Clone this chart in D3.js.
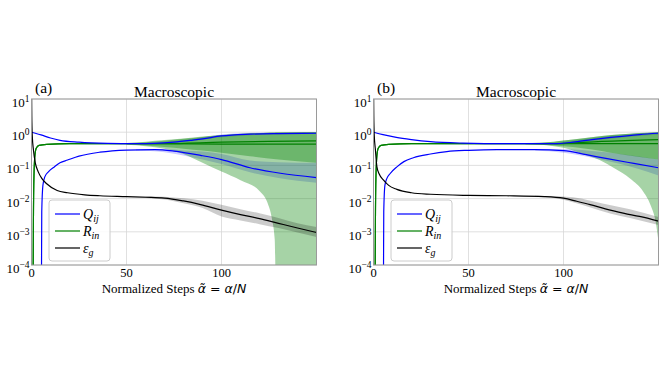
<!doctype html>
<html>
<head>
<meta charset="UTF-8">
<title>Macroscopic</title>
<script src="https://cdn.jsdelivr.net/npm/d3@7"></script>
<style>
  body { margin: 0; background: #fff; }
  text { font-family: "Liberation Serif", "Times New Roman", serif; fill: #000; }
</style>
</head>
<body>
<svg id="chart" width="664" height="374"></svg>
<script>
// ---- data ----
var xTicks = [0, 50, 100];
var yTicks = [1e-4, 1e-3, 1e-2, 1e-1, 1, 10];
var yTickExp = ["\u22124", "\u22123", "\u22122", "\u22121", "0", "1"];
var panelLabels = ["(a)", "(b)"];
var legendNames = ["Q", "R", "\u03b5"];
var legendSubs = ["ij", "in", "g"];

// R rises from ~0 right at the start (shared early part)
var rRise = [[0.8, 1e-5], [1.0, 0.002], [1.3, 0.05], [1.8, 0.2], [2.5, 0.33], [4, 0.4], [8, 0.43], [20, 0.45]];

// panel (a)
var qUpA = [[0, 1.0], [2, 0.93], [5, 0.83], [10, 0.67], [15, 0.57], [25, 0.5], [40, 0.46], [55, 0.45], [65, 0.46], [75, 0.5], [85, 0.58], [90, 0.63], [100, 0.77], [115, 0.87], [130, 0.91], [150, 0.93]];
var qLowA = [[5.2, 1e-5], [5.4, 0.004], [6, 0.025], [7, 0.045], [9, 0.065], [12, 0.09], [15, 0.12], [19, 0.145], [25, 0.19], [36, 0.25], [50, 0.29], [65, 0.3], [75, 0.27], [89, 0.2], [100, 0.15], [115, 0.085], [131, 0.058], [150, 0.043]];
var rTopA = rRise.concat([[70, 0.45], [100, 0.5], [125, 0.53], [150, 0.55]]);
var rBotA = rRise.concat([[70, 0.45], [100, 0.44], [150, 0.44]]);
var epsA = [[0, 30], [0.15, 3], [0.4, 0.8], [1, 0.3], [2, 0.12], [3.5, 0.065], [5.5, 0.04], [8, 0.028], [13.5, 0.0175], [19, 0.015], [28, 0.013], [36, 0.0122], [50, 0.0115], [60, 0.011], [70, 0.0104], [80, 0.0085], [89, 0.0066], [100, 0.0045], [110, 0.0033], [120, 0.0025], [130, 0.0018], [140, 0.0013], [150, 0.00095]];
var bandRTopA = [[50, 0.43, 0.47], [60, 0.4, 0.5], [70, 0.36, 0.55], [80, 0.32, 0.63], [90, 0.28, 0.72], [100, 0.24, 0.82], [115, 0.19, 0.92], [130, 0.15, 0.98], [150, 0.12, 1.02]];
var bandRBotA = [[50, 0.42, 0.47], [60, 0.38, 0.52], [70, 0.32, 0.58], [80, 0.22, 0.65], [90, 0.12, 0.74], [100, 0.065, 0.82], [110, 0.036, 0.9], [120, 0.017, 0.95], [124, 0.008, 0.97], [126.5, 0.0025, 0.98], [128, 0.0006, 0.98], [129, 1e-6, 0.99], [150, 1e-6, 1.0]];
var bandQLowA = [[55, 0.28, 0.31], [70, 0.25, 0.31], [80, 0.2, 0.28], [90, 0.15, 0.26], [100, 0.11, 0.22], [115, 0.062, 0.14], [130, 0.042, 0.125], [150, 0.03, 0.12]];
var bandQUpA = [[60, 0.44, 0.47], [80, 0.5, 0.58], [100, 0.7, 0.85], [120, 0.83, 0.96], [150, 0.88, 1.0]];
var bandEpsA = [[50, 0.0112, 0.0118], [60, 0.0104, 0.0118], [70, 0.0094, 0.0114], [80, 0.0072, 0.0102], [90, 0.0052, 0.0086], [100, 0.0029, 0.0065], [110, 0.0022, 0.0048], [120, 0.0017, 0.0036], [130, 0.0013, 0.0026], [140, 0.00095, 0.0018], [150, 0.0007, 0.0014]];

// panel (b)
var qUpB = [[0, 1.0], [5, 0.85], [12, 0.7], [20, 0.6], [30, 0.52], [47, 0.47], [70, 0.45], [95, 0.45], [105, 0.5], [115, 0.6], [125, 0.7], [140, 0.85], [150, 0.93]];
var qLowB = [[5.2, 1e-5], [5.4, 0.004], [6, 0.025], [7, 0.04], [8.8, 0.057], [12.3, 0.09], [16, 0.13], [21, 0.17], [30, 0.22], [38.6, 0.26], [50, 0.285], [65, 0.3], [85, 0.3], [100, 0.28], [112, 0.21], [123, 0.16], [137, 0.115], [150, 0.085]];
var rTopB = rRise.concat([[95, 0.45], [120, 0.53], [150, 0.6]]);
var rBotB = rRise.concat([[95, 0.45], [150, 0.45]]);
var epsB = [[0, 30], [0.15, 3], [0.4, 0.8], [1, 0.3], [1.8, 0.09], [3, 0.055], [5.3, 0.036], [8, 0.025], [12.3, 0.019], [20, 0.015], [30, 0.0135], [50, 0.0125], [70, 0.0122], [90, 0.0115], [100, 0.0103], [107, 0.0083], [114, 0.0066], [122, 0.0049], [132, 0.0036], [140, 0.0029], [150, 0.0021]];
var bandRTopB = [[80, 0.43, 0.47], [95, 0.4, 0.52], [105, 0.36, 0.6], [115, 0.3, 0.7], [125, 0.24, 0.82], [140, 0.18, 0.95], [150, 0.15, 1.0]];
var bandRBotB = [[80, 0.43, 0.47], [95, 0.38, 0.52], [100, 0.34, 0.56], [110, 0.22, 0.65], [119, 0.145, 0.75], [127, 0.08, 0.84], [135, 0.04, 0.9], [142, 0.016, 0.95], [146, 0.006, 0.97], [148.5, 0.002, 0.98], [150, 0.0005, 0.99]];
var bandQLowB = [[85, 0.28, 0.31], [100, 0.24, 0.31], [115, 0.17, 0.27], [130, 0.11, 0.22], [150, 0.05, 0.15]];
var bandQUpB = [[95, 0.43, 0.47], [110, 0.5, 0.6], [130, 0.68, 0.84], [150, 0.85, 1.0]];
var bandEpsB = [[85, 0.0112, 0.0122], [95, 0.0104, 0.0118], [105, 0.0078, 0.011], [115, 0.0052, 0.0085], [125, 0.0035, 0.0063], [135, 0.0026, 0.0048], [150, 0.0016, 0.0028]];

var panels = [
  {left: 31.5, label: panelLabels[0], qUp: qUpA, qLow: qLowA, rTop: rTopA, rBot: rBotA, eps: epsA,
   bRTop: bandRTopA, bRBot: bandRBotA, bQLow: bandQLowA, bQUp: bandQUpA, bEps: bandEpsA},
  {left: 373.5, label: panelLabels[1], qUp: qUpB, qLow: qLowB, rTop: rTopB, rBot: rBotB, eps: epsB,
   bRTop: bandRTopB, bRBot: bandRBotB, bQLow: bandQLowB, bQUp: bandQUpB, bEps: bandEpsB}
];

var svg = d3.select("svg#chart");
var top_ = 99, bottom = 265, plotW = 285;

function drawPanel(p, k) {
  var x = d3.scaleLinear().domain([0, 150]).range([p.left, p.left + plotW]),
      y = d3.scaleLog().domain([1e-4, 10]).range([bottom, top_]);

  var g = svg.append("g");

  // grid
  g.selectAll(".gx").data(xTicks.concat([150])).enter().append("line")
    .attr("x1", function(d) { return x(d); }).attr("x2", function(d) { return x(d); })
    .attr("y1", top_).attr("y2", bottom)
    .style("stroke", "#d8d8d8").style("stroke-width", 0.8);
  g.selectAll(".gy").data(yTicks).enter().append("line")
    .attr("x1", x(0)).attr("x2", x(150))
    .attr("y1", function(d) { return y(d); }).attr("y2", function(d) { return y(d); })
    .style("stroke", "#d8d8d8").style("stroke-width", 0.8);

  svg.append("clipPath").attr("id", "clip" + k)
    .append("rect").attr("x", x(0)).attr("y", top_).attr("width", plotW).attr("height", bottom - top_);

  var data = g.append("g").attr("clip-path", "url(#clip" + k + ")");

  var line = d3.line().curve(d3.curveMonotoneX)
    .x(function(d) { return x(d[0]); })
    .y(function(d) { return y(d[1]); });
  var area = d3.area().curve(d3.curveMonotoneX)
    .x(function(d) { return x(d[0]); })
    .y0(function(d) { return y(d[1]); })
    .y1(function(d) { return y(d[2]); });

  // bands (blue under green, so the overlap turns teal)
  data.append("path").attr("d", area(p.bQUp)).style("fill", "blue").style("opacity", 0.2);
  data.append("path").attr("d", area(p.bQLow)).style("fill", "blue").style("opacity", 0.2);
  data.append("path").attr("d", area(p.bRBot)).style("fill", "green").style("opacity", 0.35);
  data.append("path").attr("d", area(p.bRTop)).style("fill", "green").style("opacity", 0.35);
  data.append("path").attr("d", area(p.bEps)).style("fill", "black").style("opacity", 0.2);

  // lines
  [[p.rTop, "green"], [p.rBot, "green"], [p.qUp, "blue"], [p.qLow, "blue"], [p.eps, "black"]].forEach(function(s) {
    data.append("path").attr("d", line(s[0]))
      .style("fill", "none").style("stroke", s[1]).style("stroke-width", 1.2);
  });

  // frame
  g.append("rect").attr("x", x(0)).attr("y", top_).attr("width", plotW).attr("height", bottom - top_)
    .style("fill", "none").style("stroke", "#9a9a9a").style("stroke-width", 1);

  // tick labels
  g.selectAll(".tx").data(xTicks).enter().append("text")
    .attr("x", function(d) { return x(d); }).attr("y", bottom + 12)
    .attr("text-anchor", "middle").style("font-size", "12.5px")
    .text(function(d) { return d; });

  var ty = g.selectAll(".ty").data(yTicks).enter().append("text")
    .attr("x", x(0) - 2).attr("y", function(d) { return y(d) + 8; })
    .attr("text-anchor", "end").style("font-size", "13px");
  ty.append("tspan").text("10");
  ty.append("tspan").attr("dy", "-0.5em").style("font-size", "9.5px")
    .text(function(d, i) { return yTickExp[i]; });

  // titles
  g.append("text").attr("x", x(75)).attr("y", 96.5).attr("text-anchor", "middle")
    .style("font-size", "15.5px").text("Macroscopic");
  g.append("text").attr("x", x(0) + 3.5).attr("y", 92.5)
    .style("font-size", "15.5px").text(p.label);

  var xl = g.append("text").attr("x", x(75)).attr("y", 293).attr("text-anchor", "middle")
    .style("font-size", "13px");
  xl.append("tspan").text("Normalized Steps ");
  xl.append("tspan").style("font-family", "DejaVu Sans").style("font-style", "italic").style("font-size", "12.5px").text("\u03b1\u0303");
  xl.append("tspan").style("font-family", "DejaVu Sans").style("font-size", "12.5px").text(" = ");
  xl.append("tspan").style("font-family", "DejaVu Sans").style("font-style", "italic").style("font-size", "12.5px").text("\u03b1");
  xl.append("tspan").style("font-family", "DejaVu Sans").style("font-size", "12.5px").text("/");
  xl.append("tspan").style("font-family", "DejaVu Sans").style("font-style", "italic").style("font-size", "12.5px").text("N");

  // legend
  var lx = x(0) + 17.5, ly = 200;
  var leg = g.append("g").attr("transform", "translate(" + lx + "," + ly + ")");
  leg.append("rect").attr("width", 61).attr("height", 61).attr("rx", 3)
    .style("fill", "white").style("fill-opacity", 0.85).style("stroke", "#cccccc").style("stroke-width", 1);
  var colors = ["blue", "green", "black"];
  var item = leg.selectAll(".item").data(legendNames).enter().append("g")
    .attr("transform", function(d, i) { return "translate(0," + (14 + i * 17) + ")"; });
  item.append("line").attr("x1", 6).attr("x2", 31).attr("y1", 0).attr("y2", 0)
    .style("stroke", function(d, i) { return colors[i]; }).style("stroke-width", 2).style("opacity", 0.6);
  var lt = item.append("text").attr("x", 34).attr("y", 4.5)
    .style("font-size", "14px").style("font-style", "italic");
  lt.append("tspan").text(function(d) { return d; });
  lt.append("tspan").attr("dy", 3).style("font-size", "10px").text(function(d, i) { return legendSubs[i]; });
}

panels.forEach(drawPanel);
</script>
</body>
</html>
